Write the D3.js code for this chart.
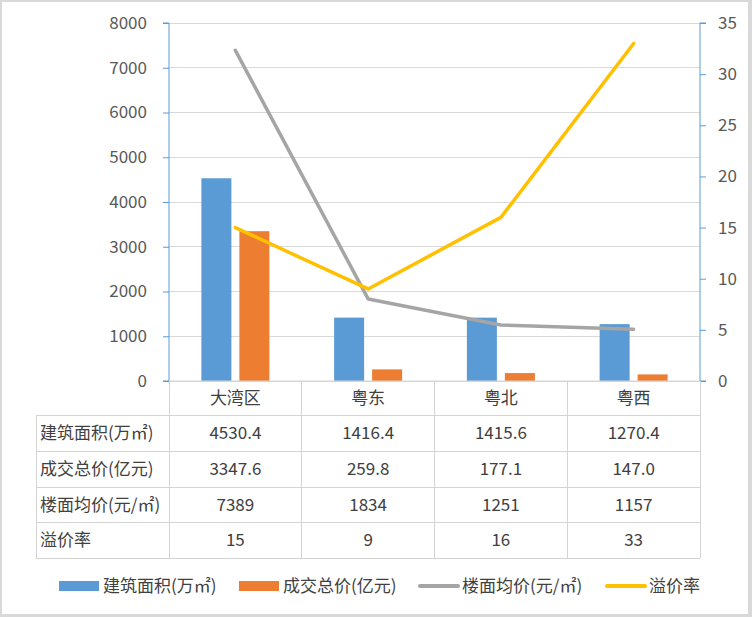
<!DOCTYPE html>
<html><head><meta charset="utf-8">
<script src="https://cdn.jsdelivr.net/npm/d3@7"></script>
<style>
html,body{margin:0;padding:0;background:#fff;}
svg text{font-family:"Noto Sans CJK SC","Noto Sans",sans-serif;}
</style></head>
<body>
<svg id="c" width="752" height="617"></svg>
<script>
const categories = ["大湾区","粤东","粤北","粤西"];
const area = [4530.4, 1416.4, 1415.6, 1270.4];
const total = [3347.6, 259.8, 177.1, 147.0];
const avgPrice = [7389, 1834, 1251, 1157];
const premium = [15, 9, 16, 33];
const seriesNames = ["建筑面积(万㎡)","成交总价(亿元)","楼面均价(元/㎡)","溢价率"];
const tableText = [
  ["4530.4","1416.4","1415.6","1270.4"],
  ["3347.6","259.8","177.1","147.0"],
  ["7389","1834","1251","1157"],
  ["15","9","16","33"]
];
const leftTicks = [0,1000,2000,3000,4000,5000,6000,7000,8000];
const rightTicks = [0,5,10,15,20,25,30,35];
const colors = ["#5b9bd5","#ed7d31","#a5a5a5","#ffc000"];

const svg = d3.select("#c");
svg.append("rect").attr("width",752).attr("height",617).attr("fill","#d9d9d9");
svg.append("rect").attr("x",2).attr("y",2).attr("width",746).attr("height",612).attr("fill","#fff");

const L=169, R=700, T=23, B=381;
const x = d3.scaleBand().domain(categories).range([L,R]);
const yL = d3.scaleLinear().domain([0,8000]).range([B,T]);
const yR = d3.scaleLinear().domain([0,35]).range([B,T]);

// gridlines
svg.append("g").selectAll("line").data(leftTicks).join("line")
  .attr("x1",L).attr("x2",R).attr("y1",d=>yL(d)).attr("y2",d=>yL(d))
  .attr("stroke","#d9d9d9").attr("stroke-width",1).attr("shape-rendering","crispEdges");

// axes
const axL = svg.append("g").attr("transform",`translate(${L},0)`)
  .call(d3.axisLeft(yL).tickValues(leftTicks).tickSize(6).tickPadding(16).tickFormat(d3.format("d")));
const axR = svg.append("g").attr("transform",`translate(${R},0)`)
  .call(d3.axisRight(yR).tickValues(rightTicks).tickSize(6).tickPadding(12).tickFormat(d3.format("d")));
[axL,axR].forEach(a=>{
  a.select(".domain").attr("stroke","#5b9bd5").attr("d", `M${a===axL?-6:6},${T}H0V${B}H${a===axL?-6:6}`);
  a.selectAll(".tick line").attr("stroke","#5b9bd5");
  a.selectAll(".tick text").attr("fill","#595959").style("font-size","17px");
});

// bars
const bw = 30, off = 19;
const cx = c => x(c) + x.bandwidth()/2;
svg.append("g").selectAll("rect").data(categories).join("rect")
  .attr("x",(c)=>cx(c)-off-bw/2).attr("width",bw)
  .attr("y",(c,i)=>yL(area[i])).attr("height",(c,i)=>B-yL(area[i]))
  .attr("fill",colors[0]);
svg.append("g").selectAll("rect").data(categories).join("rect")
  .attr("x",(c)=>cx(c)+off-bw/2).attr("width",bw)
  .attr("y",(c,i)=>yL(total[i])).attr("height",(c,i)=>B-yL(total[i]))
  .attr("fill",colors[1]);

// lines
svg.append("path").datum(avgPrice)
  .attr("d", d3.line().x((d,i)=>cx(categories[i])).y(d=>yL(d)))
  .attr("fill","none").attr("stroke",colors[2]).attr("stroke-width",3.5).attr("stroke-linecap","round").attr("stroke-linejoin","round");
svg.append("path").datum(premium)
  .attr("d", d3.line().x((d,i)=>cx(categories[i])).y(d=>yR(d)))
  .attr("fill","none").attr("stroke",colors[3]).attr("stroke-width",3.5).attr("stroke-linecap","round").attr("stroke-linejoin","round");

// table
const rowsY = [381,415,451,487,522.5,558];
const tblLeft = 36;
const tg = svg.append("g");
const lc = "#d4d4d4";
tg.append("line").attr("x1",L).attr("x2",R).attr("y1",B).attr("y2",B).attr("stroke",lc);
rowsY.slice(1).forEach(y=>{
  tg.append("line").attr("x1",tblLeft).attr("x2",R).attr("y1",y).attr("y2",y).attr("stroke",lc).attr("shape-rendering","crispEdges");
});
const vx = [L, ...categories.map(c=>x(c)+x.bandwidth())];
vx.forEach(xx=>{
  tg.append("line").attr("x1",xx).attr("x2",xx).attr("y1",B).attr("y2",rowsY[5]).attr("stroke",lc).attr("shape-rendering","crispEdges");
});
tg.append("line").attr("x1",tblLeft).attr("x2",tblLeft).attr("y1",rowsY[1]).attr("y2",rowsY[5]).attr("stroke",lc).attr("shape-rendering","crispEdges");
tg.selectAll("text.h").data(categories).join("text").attr("class","h")
  .attr("x",c=>cx(c)).attr("y",(rowsY[0]+rowsY[1])/2).attr("dy","0.35em")
  .attr("text-anchor","middle").attr("fill","#404040").style("font-size","17px").text(c=>c);
seriesNames.forEach((n,r)=>{
  const ym = (rowsY[r+1]+rowsY[r+2])/2;
  tg.append("text").attr("x",tblLeft+4).attr("y",ym).attr("dy","0.35em")
    .attr("fill","#404040").style("font-size","17px").text(n);
  categories.forEach((c,i)=>{
    tg.append("text").attr("x",cx(c)).attr("y",ym).attr("dy","0.35em").attr("text-anchor","middle")
      .attr("fill","#404040").style("font-size","17px").text(tableText[r][i]);
  });
});

// legend
const legX = [59,239,418,605];
const ly = 586;
const lg = svg.append("g");
seriesNames.forEach((n,i)=>{
  if(i<2){
    lg.append("rect").attr("x",legX[i]).attr("y",ly-5).attr("width",40).attr("height",10).attr("fill",colors[i]);
  } else {
    lg.append("line").attr("x1",legX[i]+2).attr("x2",legX[i]+40).attr("y1",ly).attr("y2",ly)
      .attr("stroke",colors[i]).attr("stroke-width",4).attr("stroke-linecap","round");
  }
  lg.append("text").attr("x",legX[i]+44).attr("y",ly).attr("dy","0.35em")
    .attr("fill","#404040").style("font-size","17px").text(n);
});
</script>
</body></html>
